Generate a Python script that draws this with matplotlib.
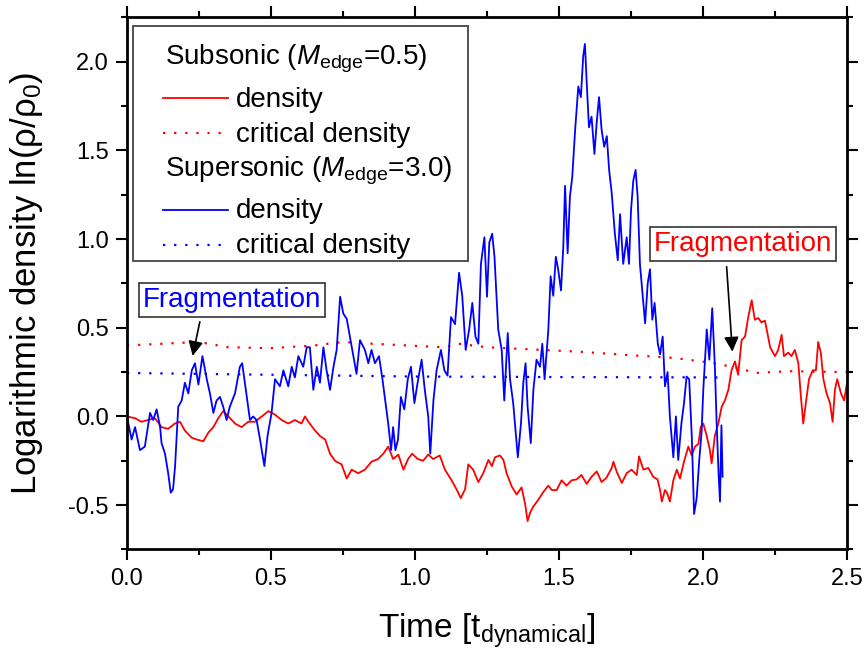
import numpy as np
import matplotlib
matplotlib.use("Agg")
import matplotlib.pyplot as plt
from matplotlib.lines import Line2D
from matplotlib.patches import Rectangle
from matplotlib.ticker import MultipleLocator, FormatStrFormatter

plt.rcParams['font.family'] = ['Liberation Sans', 'DejaVu Sans']
plt.rcParams['mathtext.fontset'] = 'custom'
plt.rcParams['mathtext.rm'] = 'Liberation Sans'
plt.rcParams['mathtext.it'] = 'Liberation Sans:italic'
plt.rcParams['axes.unicode_minus'] = False

# subsonic run (M_edge = 0.5)
sub_t = [0.000, 0.028, 0.050, 0.074, 0.097, 0.120, 0.143, 0.166, 0.184, 0.201,
         0.225, 0.242, 0.265, 0.283, 0.300, 0.317, 0.334, 0.352, 0.375, 0.398,
         0.421, 0.444, 0.468, 0.491, 0.514, 0.537, 0.560, 0.583, 0.606, 0.618,
         0.630, 0.653, 0.670, 0.688, 0.705, 0.722, 0.745, 0.763, 0.780, 0.803,
         0.826, 0.849, 0.872, 0.890, 0.907, 0.924, 0.942, 0.960, 0.976, 0.990,
         1.010, 1.028, 1.046, 1.063, 1.086, 1.104, 1.127, 1.144, 1.159, 1.174,
         1.185, 1.202, 1.220, 1.237, 1.255, 1.267, 1.278, 1.295, 1.307, 1.318,
         1.336, 1.353, 1.370, 1.382, 1.391, 1.399, 1.410, 1.428, 1.446, 1.463,
         1.475, 1.492, 1.509, 1.526, 1.544, 1.561, 1.578, 1.596, 1.613, 1.631,
         1.648, 1.665, 1.683, 1.689, 1.700, 1.718, 1.735, 1.752, 1.770, 1.778,
         1.793, 1.810, 1.827, 1.842, 1.851, 1.857, 1.868, 1.875, 1.885, 1.897,
         1.909, 1.920, 1.934, 1.949, 1.961, 1.972, 1.984, 1.992, 2.001, 2.013,
         2.024, 2.030, 2.041, 2.053, 2.065, 2.076, 2.088, 2.099, 2.111, 2.122,
         2.134, 2.146, 2.157, 2.169, 2.180, 2.192, 2.203, 2.215, 2.223, 2.233,
         2.250, 2.261, 2.273, 2.281, 2.296, 2.307, 2.319, 2.331, 2.339, 2.348,
         2.357, 2.368, 2.381, 2.392, 2.400, 2.409, 2.418, 2.429, 2.441, 2.450,
         2.458, 2.466, 2.479, 2.490, 2.500]
sub_rho = [0.00, -0.01, -0.03, -0.02, -0.01, -0.06, -0.07, -0.04, -0.03, -0.08,
           -0.12, -0.13, -0.14, -0.09, -0.06, -0.01, 0.03, 0.00, -0.04, -0.06,
           -0.03, -0.03, 0.00, 0.03, 0.01, -0.02, -0.04, -0.02, -0.04, 0.00,
           -0.03, -0.08, -0.11, -0.13, -0.21, -0.25, -0.27, -0.35, -0.30, -0.32,
           -0.30, -0.255, -0.24, -0.21, -0.17, -0.24, -0.215, -0.30, -0.24, -0.21,
           -0.24, -0.25, -0.215, -0.24, -0.22, -0.30, -0.36, -0.41, -0.46, -0.41,
           -0.27, -0.30, -0.37, -0.32, -0.245, -0.28, -0.23, -0.22, -0.245, -0.32,
           -0.395, -0.44, -0.40, -0.49, -0.59, -0.545, -0.51, -0.47, -0.425, -0.39,
           -0.415, -0.415, -0.36, -0.39, -0.36, -0.355, -0.33, -0.38, -0.34, -0.31,
           -0.37, -0.345, -0.29, -0.255, -0.31, -0.375, -0.32, -0.30, -0.33, -0.225,
           -0.30, -0.29, -0.34, -0.355, -0.415, -0.48, -0.415, -0.43, -0.48, -0.36,
           -0.30, -0.35, -0.255, -0.17, -0.22, -0.17, -0.155, -0.06, -0.04, -0.11,
           -0.19, -0.265, -0.11, -0.04, 0.055, 0.09, 0.15, 0.26, 0.31, 0.235,
           0.43, 0.45, 0.56, 0.655, 0.545, 0.555, 0.53, 0.54, 0.475, 0.39,
           0.34, 0.375, 0.46, 0.34, 0.36, 0.34, 0.375, 0.30, 0.13, -0.04,
           0.075, 0.21, 0.26, 0.26, 0.42, 0.36, 0.21, 0.13, 0.075, -0.03,
           0.15, 0.21, 0.13, 0.09, 0.19]

sub_crit_t = [0.0, 0.25, 0.35, 0.5, 0.65, 0.75, 0.85, 1.1, 1.15, 1.25,
              1.57, 1.75, 1.90, 2.04, 2.13, 2.18, 2.3, 2.5]
sub_crit = [0.40, 0.42, 0.39, 0.385, 0.40, 0.42, 0.41, 0.39, 0.41, 0.39,
            0.365, 0.345, 0.33, 0.30, 0.27, 0.245, 0.255, 0.25]

# supersonic run (M_edge = 3.0)
sup_t = [0.000, 0.016, 0.028, 0.045, 0.062, 0.080, 0.091, 0.103, 0.115, 0.120,
         0.132, 0.143, 0.152, 0.160, 0.167, 0.178, 0.190, 0.201, 0.213, 0.225,
         0.236, 0.248, 0.262, 0.277, 0.288, 0.300, 0.311, 0.323, 0.334, 0.346,
         0.357, 0.375, 0.392, 0.400, 0.410, 0.427, 0.438, 0.450, 0.462, 0.477,
         0.488, 0.502, 0.514, 0.531, 0.543, 0.560, 0.572, 0.583, 0.595, 0.612,
         0.624, 0.635, 0.647, 0.659, 0.670, 0.682, 0.693, 0.705, 0.717, 0.728,
         0.740, 0.751, 0.763, 0.774, 0.786, 0.797, 0.809, 0.826, 0.838, 0.849,
         0.861, 0.875, 0.887, 0.898, 0.907, 0.917, 0.924, 0.932, 0.941, 0.951,
         0.963, 0.975, 0.986, 0.998, 1.009, 1.023, 1.034, 1.046, 1.053, 1.064,
         1.075, 1.090, 1.102, 1.113, 1.125, 1.139, 1.153, 1.164, 1.176, 1.188,
         1.199, 1.210, 1.220, 1.229, 1.241, 1.250, 1.258, 1.268, 1.276, 1.289,
         1.301, 1.310, 1.322, 1.330, 1.341, 1.357, 1.368, 1.376, 1.384, 1.391,
         1.402, 1.411, 1.422, 1.434, 1.442, 1.450, 1.463, 1.471, 1.480, 1.489,
         1.497, 1.507, 1.515, 1.521, 1.530, 1.538, 1.546, 1.556, 1.567, 1.576,
         1.584, 1.590, 1.596, 1.604, 1.613, 1.623, 1.631, 1.639, 1.648, 1.657,
         1.666, 1.674, 1.683, 1.694, 1.704, 1.712, 1.723, 1.735, 1.743, 1.750,
         1.758, 1.766, 1.773, 1.781, 1.789, 1.799, 1.808, 1.816, 1.824, 1.832,
         1.843, 1.851, 1.860, 1.868, 1.877, 1.885, 1.897, 1.906, 1.914, 1.925,
         1.934, 1.943, 1.952, 1.961, 1.969, 1.978, 1.987, 1.995, 2.001, 2.013,
         2.022, 2.032, 2.041, 2.047, 2.054, 2.059, 2.064, 2.068]
sup_rho = [0.00, -0.13, -0.06, -0.19, -0.17, 0.02, -0.02, 0.04, -0.06, -0.15,
           -0.21, -0.32, -0.43, -0.41, -0.28, 0.055, 0.09, 0.19, 0.13, 0.26,
           0.30, 0.18, 0.34, 0.21, 0.13, 0.02, 0.09, 0.11, 0.055, -0.02,
           0.055, 0.13, 0.28, 0.30, 0.18, -0.02, 0.00, -0.02, -0.13, -0.28,
           -0.11, 0.02, 0.21, 0.17, 0.26, 0.17, 0.28, 0.22, 0.34, 0.28,
           0.39, 0.39, 0.15, 0.28, 0.19, 0.39, 0.26, 0.15, 0.28, 0.375,
           0.675, 0.58, 0.55, 0.45, 0.34, 0.24, 0.43, 0.375, 0.30, 0.375,
           0.30, 0.34, 0.21, 0.075, -0.04, -0.19, -0.06, -0.19, -0.13, 0.11,
           0.04, 0.21, 0.28, 0.075, 0.19, 0.32, 0.15, 0.00, -0.21, 0.09,
           0.26, 0.375, 0.26, 0.23, 0.56, 0.52, 0.81, 0.68, 0.375, 0.49,
           0.64, 0.45, 0.41, 0.86, 1.01, 0.675, 0.98, 1.03, 0.90, 0.49,
           0.375, 0.09, 0.47, 0.21, 0.075, -0.23, -0.04, 0.19, 0.30, 0.055,
           -0.15, 0.15, 0.32, 0.28, 0.41, 0.21, 0.49, 0.79, 0.68, 0.90,
           0.83, 0.71, 0.96, 1.30, 0.92, 1.24, 1.35, 1.615, 1.86, 1.80,
           2.03, 2.10, 1.89, 1.63, 1.69, 1.48, 1.66, 1.80, 1.615, 1.52,
           1.58, 1.39, 1.26, 1.03, 0.88, 1.14, 0.86, 1.01, 0.86, 1.16,
           1.33, 1.39, 1.24, 0.86, 0.71, 0.525, 0.75, 0.83, 0.545, 0.64,
           0.41, 0.35, 0.45, 0.17, 0.25, 0.00, -0.23, 0.00, -0.245, -0.04,
           0.075, 0.225, 0.21, -0.11, -0.55, -0.46, -0.245, -0.09, 0.15, 0.49,
           0.32, 0.61, 0.29, -0.02, -0.32, -0.48, -0.05, -0.34]

sup_crit_t = [0.0, 0.5, 1.0, 1.5, 2.05]
sup_crit = [0.245, 0.235, 0.225, 0.222, 0.22]

fig = plt.figure(figsize=(8.65, 6.58), dpi=100)
ax = fig.add_axes([0.1468, 0.1649, 0.8324, 0.8088])

dots = (0, (1, 4))
ax.plot(sub_t, sub_rho, color='red', lw=1.3)
ax.plot(sub_crit_t, sub_crit, color='red', lw=1.6, ls=dots)
ax.plot(sup_t, sup_rho, color='blue', lw=1.3)
ax.plot(sup_crit_t, sup_crit, color='blue', lw=1.6, ls=dots)

ax.set_xlim(0, 2.5)
ax.set_ylim(-0.75, 2.25)
ax.xaxis.set_major_locator(MultipleLocator(0.5))
ax.xaxis.set_minor_locator(MultipleLocator(0.25))
ax.yaxis.set_major_locator(MultipleLocator(0.5))
ax.yaxis.set_minor_locator(MultipleLocator(0.25))
ax.xaxis.set_major_formatter(FormatStrFormatter('%.1f'))
ax.yaxis.set_major_formatter(FormatStrFormatter('%.1f'))
ax.tick_params(which='both', direction='out', top=True, right=True, width=1.5,
               labelsize=17)
ax.tick_params(which='major', length=8, pad=5)
ax.tick_params(which='minor', length=4)
for s in ax.spines.values():
    s.set_linewidth(2)

ax.set_xlabel(r'Time [t$_{\rm dynamical}$]', fontsize=24)
ax.set_ylabel(r'Logarithmic density ln(ρ/ρ$_0$)', fontsize=25)
ax.xaxis.set_label_coords(0.5, -0.117)
ax.yaxis.set_label_coords(-0.114, 0.5)

# legend drawn by hand so the group headers sit flush with the handles
ax.add_patch(Rectangle((0.0083, 0.542), 0.466, 0.442, transform=ax.transAxes,
                       fc='white', ec='#444444', lw=1.3, zorder=5))
rows = [
    (0.9105, r'Subsonic ($M_{\rm edge}$=0.5)', None, None),
    (0.832, 'density', 'red', '-'),
    (0.766, 'critical density', 'red', dots),
    (0.7006, r'Supersonic ($M_{\rm edge}$=3.0)', None, None),
    (0.6224, 'density', 'blue', '-'),
    (0.5567, 'critical density', 'blue', dots),
]
for y, label, c, ls in rows:
    if c is None:
        ax.text(0.053, y, label, transform=ax.transAxes, fontsize=20,
                va='baseline', zorder=6)
    else:
        ax.add_line(Line2D([0.050, 0.140], [y + 0.016, y + 0.016],
                           transform=ax.transAxes, color=c, ls=ls,
                           lw=1.3 if ls == '-' else 1.6, zorder=6))
        ax.text(0.151, y, label, transform=ax.transAxes, fontsize=20,
                va='baseline', zorder=6)

box = dict(boxstyle='square,pad=0.15', fc='white', ec='#333333', lw=1.2)
arrow = dict(arrowstyle='-|>', color='black', lw=1.2, mutation_scale=22,
             shrinkA=0, shrinkB=0)
ax.text(0.365, 0.657, 'Fragmentation', color='blue', fontsize=20,
        ha='center', va='center', bbox=box, zorder=6)
ax.annotate('', xy=(0.228, 0.341), xytext=(0.253, 0.534), arrowprops=arrow)
ax.text(2.139, 0.972, 'Fragmentation', color='red', fontsize=20,
        ha='center', va='center', bbox=box, zorder=6)
ax.annotate('', xy=(2.102, 0.365), xytext=(2.082, 0.844), arrowprops=arrow)

fig.savefig('out.png', dpi=100)
